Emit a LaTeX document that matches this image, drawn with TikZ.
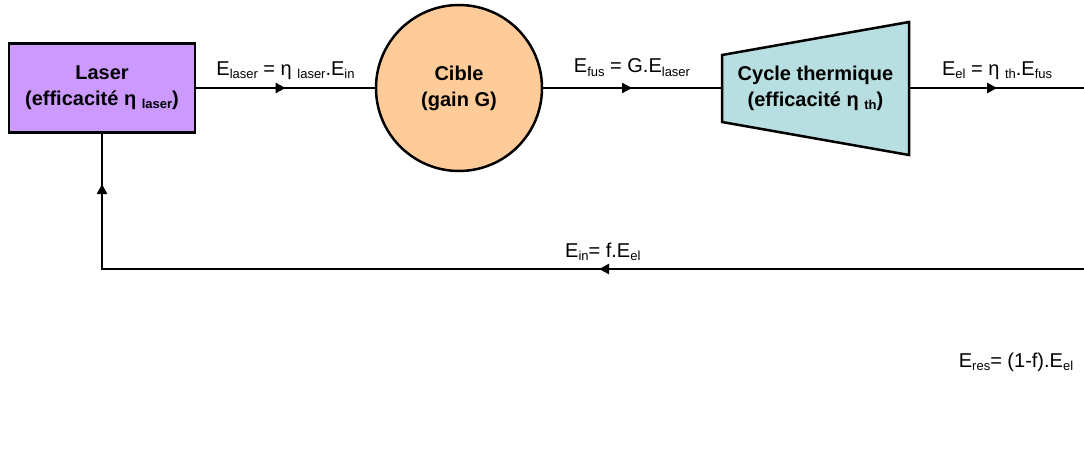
\documentclass[tikz,border=0pt]{standalone}
\usepackage{fontspec}
\setmainfont{Liberation Sans}
\usetikzlibrary{arrows.meta,decorations.markings,positioning}

\definecolor{laserviolet}{HTML}{CC99FF}
\definecolor{cibleorange}{HTML}{FFCC99}
\definecolor{cyclecyan}{HTML}{B7DEE0}

\newcommand{\lowidx}[1]{\raisebox{-0.3ex}{\fontsize{13}{13}\selectfont #1}}

\begin{document}
\begin{tikzpicture}[x=1pt,y=-1pt,line width=2.5pt,
    midarrow/.style={postaction={decorate},decoration={markings,
      mark=at position #1 with {\arrow{Triangle[length=10pt,width=10pt]}}}},
    midarrow/.default=0.5,
    block/.style={align=center,font=\bfseries\fontsize{20}{26}\selectfont},
    lbl/.style={anchor=base,font=\fontsize{20}{24}\selectfont}]
      \useasboundingbox (0,0) rectangle (1084,452);

      \node[block,draw,fill=laserviolet,minimum width=186,minimum height=89] (laser) at (102,88) {Laser\\(efficacité η \lowidx{laser})};
      \node[block,draw,circle,fill=cibleorange,minimum size=166] (cible) at (459,88) {Cible\\(gain G)};
      \draw[fill=cyclecyan] (722,55) -- (909,22) -- (909,155) -- (722,122) -- cycle;
      \node[block,minimum width=187,inner xsep=0] (thermo) at (815.5,88) {Cycle thermique\\(efficacité η \lowidx{th})};

      \coordinate (elout) at (1084,88);
      \coordinate (resin) at (1084,269);
      \coordinate (corner) at (102,269);

      \draw[midarrow] (laser) -- node[lbl,yshift=13pt] {E\lowidx{laser} = η \lowidx{laser}.E\lowidx{in}} (cible);
      \draw[midarrow] (cible) -- node[lbl,yshift=15pt] {E\lowidx{fus} = G.E\lowidx{laser}} (thermo);
      \draw[midarrow] (thermo) -- node[lbl,yshift=13pt] {E\lowidx{el} = η \lowidx{th}.E\lowidx{fus}} (elout);
      \draw[postaction={decorate},decoration={markings,
          mark=at position 0.434 with {\arrow{Triangle[length=10pt,width=10pt]}},
          mark=at position 0.955 with {\arrow{Triangle[length=10pt,width=10pt]}}}]
        (resin) -- node[lbl,pos=0.49,yshift=12pt] {E\lowidx{in}= f.E\lowidx{el}} (corner) -- (laser);

      \node[lbl] (eres) at (1016,367) {E\lowidx{res}= (1-f).E\lowidx{el}};
\end{tikzpicture}
\end{document}
